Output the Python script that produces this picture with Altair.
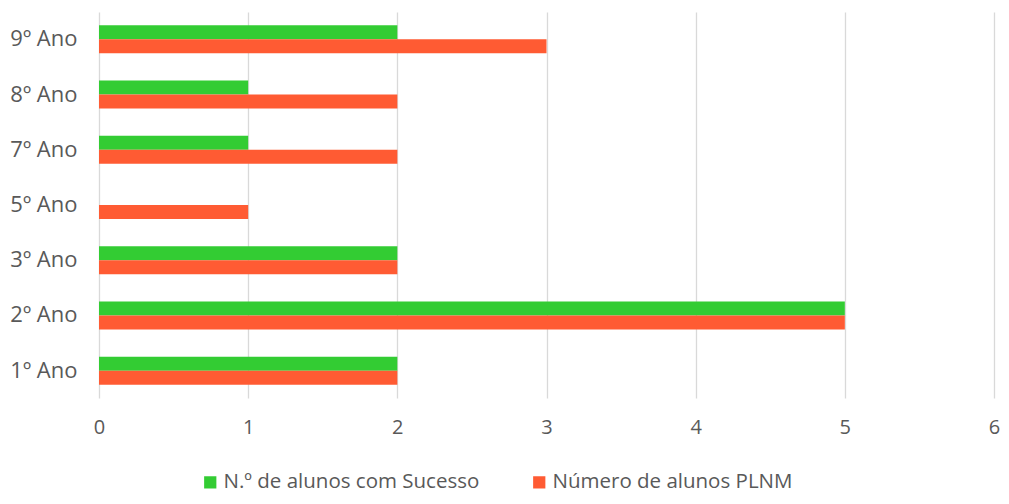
import altair as alt
import pandas as pd

categories = ["9º Ano", "8º Ano", "7º Ano", "5º Ano", "3º Ano", "2º Ano", "1º Ano"]
series_names = ["N.º de alunos com Sucesso", "Número de alunos PLNM"]
sucesso = [2, 1, 1, 0, 2, 5, 2]
plnm = [3, 2, 2, 1, 2, 5, 2]
colors = ["#33CC33", "#FF5B33"]

rows = []
for c, s, p in zip(categories, sucesso, plnm):
    rows.append({"ano": c, "serie": series_names[0], "valor": s})
    rows.append({"ano": c, "serie": series_names[1], "valor": p})
df = pd.DataFrame(rows)

FONT = "Open Sans"

chart = alt.Chart(df).mark_bar().encode(
    x=alt.X("valor:Q", scale=alt.Scale(domain=[0, 6], nice=False),
            axis=alt.Axis(values=[0, 1, 2, 3, 4, 5, 6], title=None, grid=True,
                          gridColor="#d9d9d9", gridWidth=1.3, domain=False, ticks=False,
                          labelFlush=False, labelOverlap=False,
                          labelFont=FONT, labelFontSize=20, labelColor="#595959",
                          labelPadding=19)),
    y=alt.Y("ano:N", sort=categories,
            scale=alt.Scale(paddingInner=0.493, paddingOuter=0.24),
            axis=alt.Axis(title=None, domain=False, ticks=False, grid=False,
                          labelFont=FONT, labelFontSize=22, labelColor="#595959",
                          labelPadding=22)),
    yOffset=alt.YOffset("serie:N", sort=series_names),
    color=alt.Color("serie:N", sort=series_names,
                    scale=alt.Scale(domain=series_names, range=colors),
                    legend=alt.Legend(title=None, orient="none", direction="horizontal",
                                      legendX=101, legendY=460,
                                      symbolType="square", symbolSize=150,
                                      symbolStrokeWidth=0,
                                      labelFont=FONT, labelFontSize=20.5,
                                      labelColor="#595959", labelLimit=500,
                                      columnPadding=49, labelOffset=3)),
).properties(
    width=895, height=386,
    autosize=alt.AutoSizeParams(type="none"),
    padding={"left": 91, "top": 4, "right": 7, "bottom": 97},
).configure_view(stroke=None)

chart.save("out.html", embed_options={"renderer": "svg", "actions": False})
